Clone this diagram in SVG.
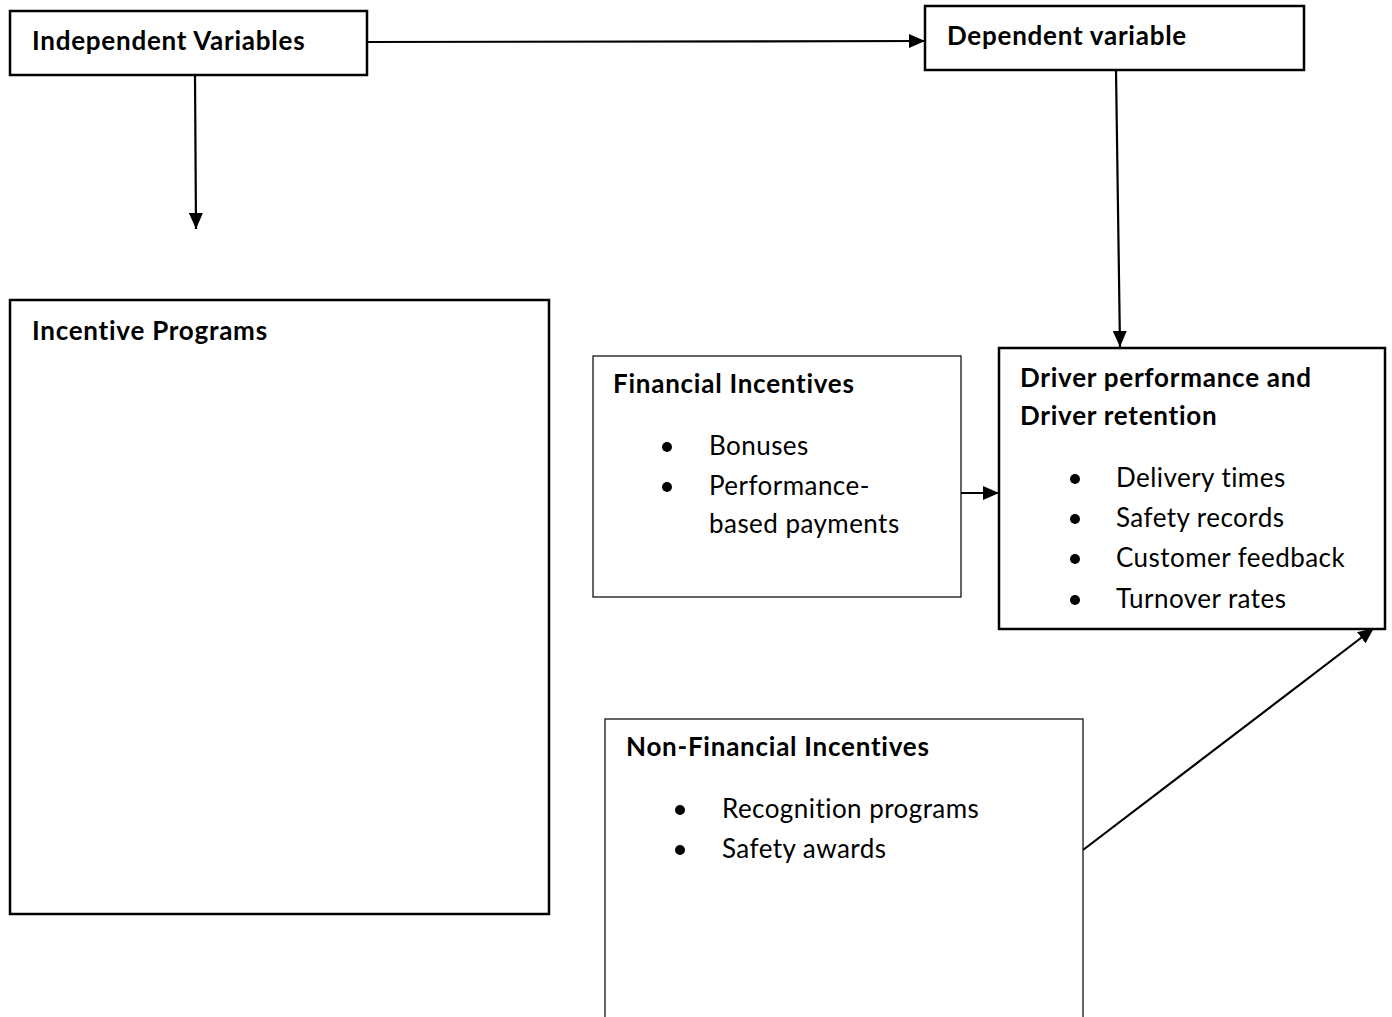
<svg xmlns="http://www.w3.org/2000/svg" width="1392" height="1017" viewBox="0 0 1392 1017">
<style>
.box{fill:#fff;stroke:#000;stroke-width:2.5}
.thin{fill:#fff;stroke:#000;stroke-width:1.2}
.t{font-family:Lato,"Liberation Sans",sans-serif;font-weight:bold;font-size:26px;letter-spacing:0.75px;fill:#000}
.b{font-family:Lato,"Liberation Sans",sans-serif;font-size:26px;letter-spacing:0.45px;fill:#000}
.c{stroke:#000;stroke-width:2.2;fill:none}
</style>
<defs>
<marker id="ah" viewBox="0 0 16 14" refX="16" refY="7" markerWidth="16" markerHeight="14" markerUnits="userSpaceOnUse" orient="auto">
<path d="M0,0 L16,7 L0,14 Z" fill="#000"/>
</marker>
</defs>
<g id="connectors">
<line class="c" x1="367" y1="42" x2="925" y2="41" marker-end="url(#ah)"/>
<line class="c" x1="195" y1="75" x2="196" y2="229" marker-end="url(#ah)"/>
<line class="c" x1="1116" y1="70" x2="1120" y2="347" marker-end="url(#ah)"/>
<line class="c" x1="961" y1="493" x2="999" y2="493" marker-end="url(#ah)"/>
<line class="c" x1="1083" y1="850" x2="1374" y2="628" marker-end="url(#ah)"/>
</g>
<g id="independent">
<rect class="box" x="10" y="11" width="357" height="64"/>
<text class="t" x="32" y="50">Independent Variables</text>
</g>
<g id="dependent">
<rect class="box" x="925" y="6" width="379" height="64"/>
<text class="t" x="947" y="45">Dependent variable</text>
</g>
<g id="incentive">
<rect class="box" x="10" y="300" width="539" height="614"/>
<text class="t" x="32" y="340">Incentive Programs</text>
</g>
<g id="financial">
<rect class="thin" x="593" y="356" width="368" height="241"/>
<text class="t" x="613" y="393">Financial Incentives</text>
<circle cx="667" cy="447" r="5"/>
<circle cx="667" cy="487" r="5"/>
<text class="b" x="709" y="455">Bonuses</text>
<text class="b" x="709" y="495">Performance-</text>
<text class="b" x="709" y="533">based payments</text>
</g>
<g id="driver">
<rect class="box" x="999" y="348" width="386" height="281"/>
<text class="t" x="1020" y="387">Driver performance and</text>
<text class="t" x="1020" y="425">Driver retention</text>
<circle cx="1075" cy="479" r="5"/>
<circle cx="1075" cy="519" r="5"/>
<circle cx="1075" cy="559" r="5"/>
<circle cx="1075" cy="600" r="5"/>
<text class="b" x="1116" y="487">Delivery times</text>
<text class="b" x="1116" y="527">Safety records</text>
<text class="b" x="1116" y="567">Customer feedback</text>
<text class="b" x="1116" y="608">Turnover rates</text>
</g>
<g id="nonfinancial">
<rect class="thin" x="605" y="719" width="478" height="310"/>
<text class="t" x="626" y="756">Non-Financial Incentives</text>
<circle cx="680" cy="810" r="5"/>
<circle cx="680" cy="850" r="5"/>
<text class="b" x="722" y="818">Recognition programs</text>
<text class="b" x="722" y="858">Safety awards</text>
</g>
</svg>
